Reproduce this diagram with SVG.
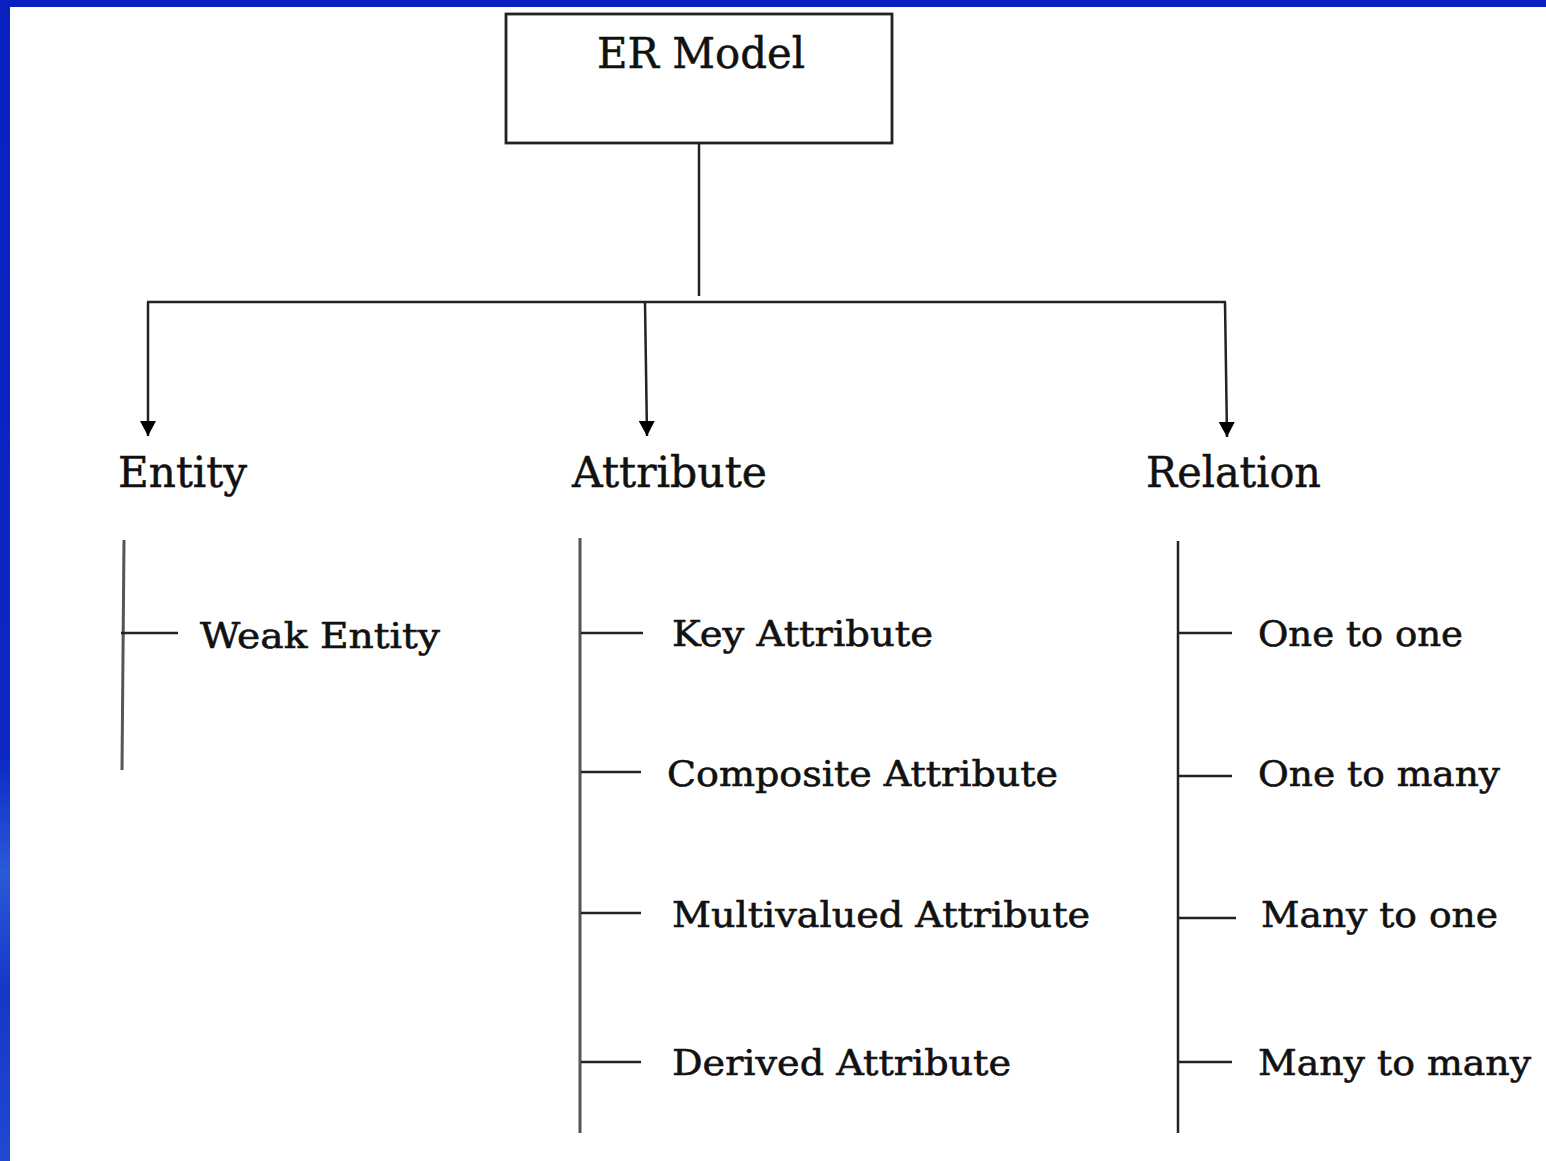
<svg xmlns="http://www.w3.org/2000/svg" width="1546" height="1161" viewBox="0 0 1546 1161">
  <style>
    .ln { stroke: #222; stroke-width: 2.5; fill: none; }
    .gl { stroke: #555; stroke-width: 3; fill: none; }
    .hd { font-family: "DejaVu Serif", "Liberation Serif", serif; font-size: 43px; fill: #111; stroke: #111; stroke-width: 0.5; }
    .sb { font-family: "DejaVu Serif", "Liberation Serif", serif; font-size: 36px; fill: #111; stroke: #111; stroke-width: 0.6; }
  </style>
  <defs>
    <marker id="ah" viewBox="0 0 16 16" refX="15" refY="8" markerWidth="16" markerHeight="16" markerUnits="userSpaceOnUse" orient="auto">
      <path d="M0,0 L15,8 L0,16 z" fill="#000"/>
    </marker>
    <linearGradient id="side" x1="0" y1="0" x2="0" y2="1">
      <stop offset="0" stop-color="#0820C0"/>
      <stop offset="0.65" stop-color="#0B28C4"/>
      <stop offset="0.75" stop-color="#2A5AD8"/>
      <stop offset="0.85" stop-color="#1438C8"/>
      <stop offset="1" stop-color="#2048D0"/>
    </linearGradient>
  </defs>

  <rect x="0" y="0" width="1546" height="1161" fill="#fff"/>
  <rect x="0" y="0" width="1546" height="7" fill="#0820C0"/>
  <rect x="0" y="0" width="10" height="1161" fill="url(#side)"/>

  <g id="connectors">
    <line class="ln" x1="699" y1="143" x2="699" y2="296"/>
    <line class="ln" x1="147" y1="302" x2="1226" y2="302"/>
    <line class="ln" x1="148" y1="302" x2="148" y2="436" marker-end="url(#ah)"/>
    <line class="ln" x1="645" y1="302" x2="647" y2="436" marker-end="url(#ah)"/>
    <line class="ln" x1="1225" y1="302" x2="1227" y2="437" marker-end="url(#ah)"/>

    <line class="gl" x1="124" y1="540" x2="122" y2="770"/>
    <line class="ln" x1="121" y1="633" x2="178" y2="633"/>

    <line class="gl" x1="580" y1="538" x2="580" y2="1133"/>
    <line class="ln" x1="581" y1="633" x2="643" y2="633"/>
    <line class="ln" x1="581" y1="772" x2="641" y2="772"/>
    <line class="ln" x1="581" y1="913" x2="641" y2="913"/>
    <line class="ln" x1="581" y1="1062" x2="641" y2="1062"/>

    <line class="ln" x1="1178" y1="541" x2="1178" y2="1133"/>
    <line class="ln" x1="1178" y1="633" x2="1232" y2="633"/>
    <line class="ln" x1="1178" y1="776" x2="1232" y2="776"/>
    <line class="ln" x1="1178" y1="918" x2="1236" y2="918"/>
    <line class="ln" x1="1178" y1="1062" x2="1232" y2="1062"/>
  </g>

  <g id="er-model">
    <rect x="506" y="14" width="386" height="129" fill="#fff" stroke="#222" stroke-width="2.8"/>
    <text class="hd" x="597" y="68" textLength="208" lengthAdjust="spacingAndGlyphs">ER Model</text>
  </g>
  <g id="entity">
    <text class="hd" x="118" y="487" textLength="129" lengthAdjust="spacingAndGlyphs">Entity</text>
  </g>
  <g id="attribute">
    <text class="hd" x="572" y="487" textLength="195" lengthAdjust="spacingAndGlyphs">Attribute</text>
  </g>
  <g id="relation">
    <text class="hd" x="1146" y="487" textLength="175" lengthAdjust="spacingAndGlyphs">Relation</text>
  </g>

  <g id="weak-entity">
    <text class="sb" x="200" y="648" textLength="240" lengthAdjust="spacingAndGlyphs">Weak Entity</text>
  </g>
  <g id="key-attribute">
    <text class="sb" x="672" y="646" textLength="261" lengthAdjust="spacingAndGlyphs">Key Attribute</text>
  </g>
  <g id="composite-attribute">
    <text class="sb" x="667" y="786" textLength="391" lengthAdjust="spacingAndGlyphs">Composite Attribute</text>
  </g>
  <g id="multivalued-attribute">
    <text class="sb" x="672" y="927" textLength="418" lengthAdjust="spacingAndGlyphs">Multivalued Attribute</text>
  </g>
  <g id="derived-attribute">
    <text class="sb" x="672" y="1075" textLength="339" lengthAdjust="spacingAndGlyphs">Derived Attribute</text>
  </g>
  <g id="one-to-one">
    <text class="sb" x="1258" y="646" textLength="205" lengthAdjust="spacingAndGlyphs">One to one</text>
  </g>
  <g id="one-to-many">
    <text class="sb" x="1258" y="786" textLength="242" lengthAdjust="spacingAndGlyphs">One to many</text>
  </g>
  <g id="many-to-one">
    <text class="sb" x="1261" y="927" textLength="237" lengthAdjust="spacingAndGlyphs">Many to one</text>
  </g>
  <g id="many-to-many">
    <text class="sb" x="1258" y="1075" textLength="273" lengthAdjust="spacingAndGlyphs">Many to many</text>
  </g>
</svg>
